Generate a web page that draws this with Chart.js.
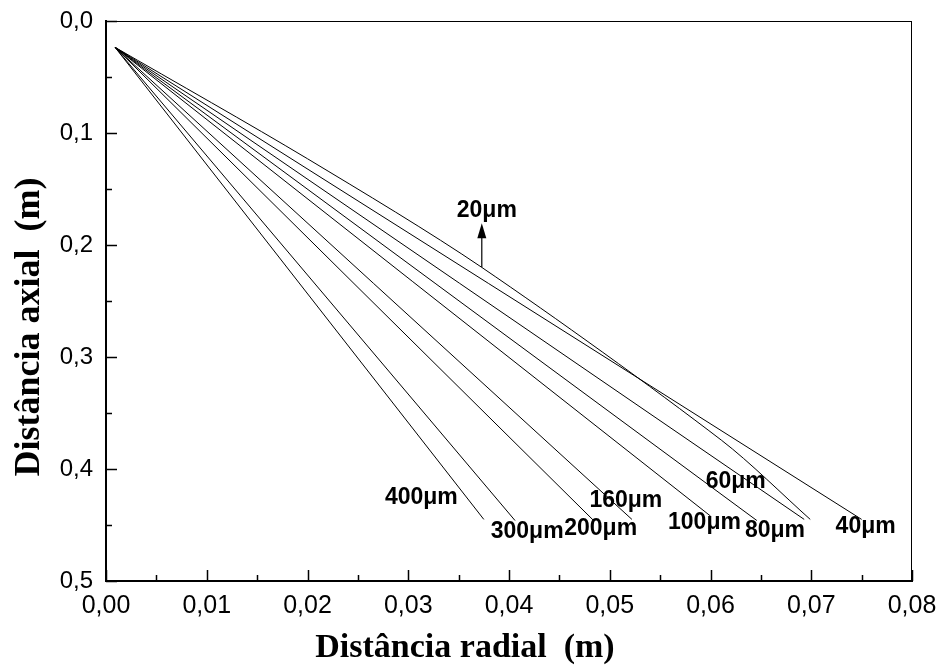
<!DOCTYPE html>
<html>
<head>
<meta charset="utf-8">
<script src="https://cdn.jsdelivr.net/npm/chart.js@4.4.0/dist/chart.umd.min.js"></script>
<style>
html, body { margin: 0; padding: 0; background: #fff; }
#wrap { width: 937px; height: 666px; }
</style>
</head>
<body>
<div id="wrap"><canvas id="trajChart" width="937" height="666"></canvas></div>
<script>
// Trajetórias das partículas: distância radial (m) x distância axial (m)
const diametros = ['20μm', '40μm', '60μm', '80μm', '100μm', '160μm', '200μm', '300μm', '400μm'];

const radial20 = [0.0009, 0.0200, 0.0373, 0.0611, 0.0699];
const axial20  = [0.0235, 0.1230, 0.2200, 0.3744, 0.4450];
const radial40 = [0.0009, 0.0750];
const axial40  = [0.0235, 0.4450];
const radial60 = [0.0009, 0.0693];
const axial60  = [0.0235, 0.4450];
const radial80 = [0.0009, 0.0646];
const axial80  = [0.0235, 0.4460];
const radial100 = [0.0009, 0.0600];
const axial100  = [0.0235, 0.4420];
const radial160 = [0.0009, 0.0522];
const axial160  = [0.0235, 0.4450];
const radial200 = [0.0009, 0.0484];
const axial200  = [0.0235, 0.4460];
const radial300 = [0.0009, 0.0406];
const axial300  = [0.0235, 0.4460];
const radial400 = [0.0009, 0.0375];
const axial400  = [0.0235, 0.4450];

// posição dos rótulos de cada curva (em unidades dos eixos)
const rotuloR = [0.0378, 0.0754, 0.0625, 0.0664, 0.0594, 0.0516, 0.0491, 0.0418, 0.0313];
const rotuloZ = [0.1691, 0.4512, 0.4110, 0.4548, 0.4476, 0.4279, 0.4529, 0.4556, 0.4253];

// seta que liga o rótulo 20μm à curva
const setaR = [0.0373, 0.0373];
const setaZ = [0.2199, 0.1806];

const xTicks = [0, 0.01, 0.02, 0.03, 0.04, 0.05, 0.06, 0.07, 0.08];
const yTicks = [0, 0.1, 0.2, 0.3, 0.4, 0.5];

const radiais = [radial20, radial40, radial60, radial80, radial100, radial160, radial200, radial300, radial400];
const axiais  = [axial20, axial40, axial60, axial80, axial100, axial160, axial200, axial300, axial400];

function toPoints(rs, zs) {
    return rs.map((r, i) => ({ x: r, y: zs[i] }));
}

const moldura = {
    id: 'moldura',
    afterDraw(chart) {
        const { ctx, chartArea: a, scales: { x, y } } = chart;
        ctx.save();
        ctx.strokeStyle = '#000';

        // topo e lado direito finos
        ctx.lineWidth = 1;
        ctx.beginPath();
        ctx.moveTo(a.left, a.top + 0.5);
        ctx.lineTo(a.right, a.top + 0.5);
        ctx.moveTo(a.right - 0.5, a.top);
        ctx.lineTo(a.right - 0.5, a.bottom);
        ctx.stroke();

        // marcas voltadas para dentro
        ctx.lineWidth = 1.5;
        ctx.beginPath();
        xTicks.forEach((v, i) => {
            const px = Math.round(x.getPixelForValue(v)) + 0.5;
            ctx.moveTo(px, a.bottom);
            ctx.lineTo(px, a.bottom - 11);
            if (i < xTicks.length - 1) {
                const pm = Math.round(x.getPixelForValue((v + xTicks[i + 1]) / 2)) + 0.5;
                ctx.moveTo(pm, a.bottom);
                ctx.lineTo(pm, a.bottom - 6);
            }
        });
        yTicks.forEach((v, i) => {
            const py = Math.round(y.getPixelForValue(v)) + 0.5;
            ctx.moveTo(a.left, py);
            ctx.lineTo(a.left + 11, py);
            if (i < yTicks.length - 1) {
                const pm = Math.round(y.getPixelForValue((v + yTicks[i + 1]) / 2)) + 0.5;
                ctx.moveTo(a.left, pm);
                ctx.lineTo(a.left + 6, pm);
            }
        });
        ctx.stroke();

        // rótulos das curvas
        ctx.fillStyle = '#000';
        ctx.font = 'bold 23px "Liberation Sans", Arial, sans-serif';
        ctx.textAlign = 'center';
        ctx.textBaseline = 'middle';
        diametros.forEach((t, i) => {
            ctx.fillText(t, x.getPixelForValue(rotuloR[i]), y.getPixelForValue(rotuloZ[i]));
        });

        // seta
        const ax = x.getPixelForValue(setaR[0]);
        const ay0 = y.getPixelForValue(setaZ[0]);
        const ay1 = y.getPixelForValue(setaZ[1]);
        ctx.lineWidth = 1.2;
        ctx.beginPath();
        ctx.moveTo(ax, ay0);
        ctx.lineTo(ax, ay1 + 10);
        ctx.stroke();
        ctx.beginPath();
        ctx.moveTo(ax, ay1);
        ctx.lineTo(ax - 4.5, ay1 + 15);
        ctx.lineTo(ax + 4.5, ay1 + 15);
        ctx.closePath();
        ctx.fill();

        // títulos dos eixos
        ctx.font = 'bold 34px "Liberation Serif", "Times New Roman", serif';
        ctx.fillText('Distância radial  (m)', 465, 648);
        ctx.font = 'bold 36px "Liberation Serif", "Times New Roman", serif';
        ctx.translate(30, 327);
        ctx.rotate(-Math.PI / 2);
        ctx.fillText('Distância axial  (m)', 0, 0);
        ctx.restore();
    }
};

new Chart(document.getElementById('trajChart').getContext('2d'), {
    type: 'scatter',
    data: {
        datasets: diametros.map((d, i) => ({
            label: d,
            data: toPoints(radiais[i], axiais[i]),
            showLine: true,
            borderColor: '#000',
            borderWidth: 1,
            pointRadius: 0,
            tension: i === 0 ? 0.3 : 0,
            fill: false
        }))
    },
    options: {
        responsive: false,
        animation: false,
        devicePixelRatio: 1,
        layout: { padding: { top: 21, right: 25, left: 0, bottom: 0 } },
        plugins: {
            legend: { display: false },
            tooltip: { enabled: false }
        },
        scales: {
            x: {
                type: 'linear',
                min: 0,
                max: 0.08,
                afterFit: s => { s.height = 85; s.paddingLeft = 0; s.paddingRight = 0; },
                afterBuildTicks: s => { s.ticks = xTicks.map(v => ({ value: v })); },
                grid: { display: false, drawTicks: false },
                border: { display: true, color: '#000', width: 2 },
                ticks: {
                    autoSkip: false,
                    maxRotation: 0,
                    padding: 10,
                    color: '#000',
                    font: { family: '"Liberation Sans", Arial, sans-serif', size: 25 },
                    callback: v => v.toFixed(2).replace('.', ',')
                }
            },
            y: {
                type: 'linear',
                reverse: true,
                min: 0,
                max: 0.5,
                afterFit: s => { s.width = 106; s.paddingTop = 0; s.paddingBottom = 0; },
                afterBuildTicks: s => { s.ticks = yTicks.map(v => ({ value: v })); },
                grid: { display: false, drawTicks: false },
                border: { display: true, color: '#000', width: 2 },
                ticks: {
                    autoSkip: false,
                    padding: 13,
                    color: '#000',
                    font: { family: '"Liberation Sans", Arial, sans-serif', size: 24 },
                    callback: v => v.toFixed(1).replace('.', ',')
                }
            }
        }
    },
    plugins: [moldura]
});
</script>
</body>
</html>
